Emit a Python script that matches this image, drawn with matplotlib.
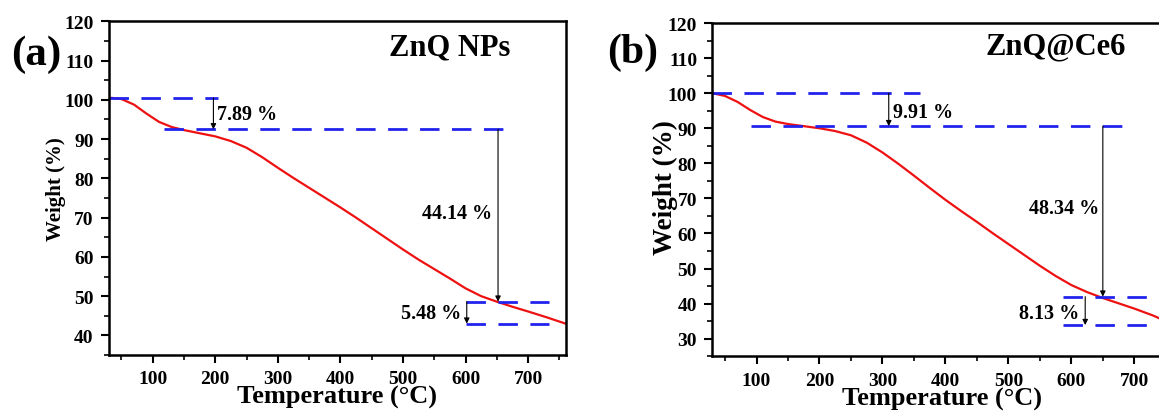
import numpy as np
import matplotlib.pyplot as plt
from matplotlib.ticker import MultipleLocator

plt.rcParams['font.family'] = ['Liberation Serif', 'DejaVu Serif']
plt.rcParams['font.weight'] = 'bold'

# TGA curves
temp_a = [35, 50, 70, 90, 110, 130, 150, 175, 200, 225, 250, 275, 300, 325, 350,
          375, 400, 425, 450, 475, 500, 525, 550, 575, 600, 625, 650, 675, 700, 730, 760]
weight_a = [100.5, 100.2, 98.8, 96.5, 94.4, 93.1, 92.3, 91.5, 90.7, 89.5, 87.8, 85.4,
            82.7, 80.1, 77.6, 75.1, 72.6, 70.0, 67.3, 64.6, 61.9, 59.3, 56.9, 54.5,
            52.0, 50.0, 48.6, 47.3, 46.1, 44.6, 43.0]

temp_b = [30, 50, 70, 90, 110, 130, 150, 175, 200, 225, 250, 275, 300, 325, 350,
          375, 400, 425, 450, 475, 500, 525, 550, 575, 600, 625, 650, 675, 700, 730, 760]
weight_b = [100.0, 99.2, 97.5, 95.2, 93.2, 91.9, 91.2, 90.6, 90.0, 89.2, 88.0, 85.9,
            83.1, 79.9, 76.5, 73.0, 69.6, 66.4, 63.3, 60.1, 57.0, 53.9, 50.8, 47.9,
            45.3, 43.3, 41.6, 40.1, 38.6, 36.6, 34.2]

# dashed guide lines: (level, x start, x end)
guides_a = [(100.5, 30, 205), (92.5, 118, 679), (48.6, 600, 733), (43.0, 600, 733)]
guides_b = [(100.0, 30, 360), (90.6, 91, 688), (42.0, 587, 770), (33.9, 587, 770)]

# weight-loss steps: (label, arrow x, from, to, text x, text y, side)
steps_a = [('7.89 %', 197, 100.5, 92.5, 203, 96.4, 'left'),
           ('44.14 %', 652, 92.5, 48.6, 643, 71.3, 'right'),
           ('5.48 %', 602, 48.6, 43.0, 593, 45.8, 'right')]
steps_b = [('9.91 %', 310, 100.0, 90.6, 316, 94.6, 'left'),
           ('48.34 %', 650, 90.6, 42.0, 645, 67.2, 'right'),
           ('8.13 %', 622, 42.0, 33.9, 613, 37.4, 'right')]

fig = plt.figure(figsize=(11.59, 4.14), dpi=100)


def panel(rect, temp, weight, guides, steps, ylim, yticks, title, ylabsize, ylabpos):
    ax = fig.add_axes(rect)
    ax.plot(temp, weight, color='#ee1111', lw=1.6)
    for y, x0, x1 in guides:
        ax.plot([x0, x1], [y, y], color='#2222ee', lw=2, dashes=(7, 4.5))
    for lab, xa, y0, y1, xt, yt, ha in steps:
        ax.annotate('', xy=(xa, y1), xytext=(xa, y0),
                    arrowprops=dict(arrowstyle='-|>', color='black', lw=0.8,
                                    mutation_scale=8, shrinkA=0, shrinkB=0))
        ax.text(xt, yt, lab, ha=ha, va='center', fontsize=14.5, fontweight='bold')
    ax.text(575, 113.5, title, ha='center', va='center', fontsize=22, fontweight='bold')
    ax.set_xlim(30, 760)
    ax.set_ylim(*ylim)
    ax.set_yticks(yticks)
    ax.set_xticks(range(100, 701, 100))
    ax.xaxis.set_minor_locator(MultipleLocator(50))
    ax.yaxis.set_minor_locator(MultipleLocator(5))
    ax.tick_params(which='major', direction='out', length=6, width=1.5, labelsize=14, pad=5)
    ax.tick_params(which='minor', direction='out', length=3.5, width=1.2)
    for lbl in ax.get_xticklabels() + ax.get_yticklabels():
        lbl.set_fontweight('bold')
    for sp in ax.spines.values():
        sp.set_linewidth(1.8)
    ax.set_xlabel('Temperature (°C)', fontsize=19, fontweight='bold', labelpad=-1.5)
    ax.set_ylabel('Weight (%)', fontsize=ylabsize, fontweight='bold')
    ax.yaxis.set_label_coords(*ylabpos)
    return ax


panel([0.094, 0.140, 0.394, 0.806], temp_a, weight_a, guides_a, steps_a,
      (35, 120), range(40, 121, 10), 'ZnQ NPs', 15, (-0.093, 0.5))
panel([0.6147, 0.137, 0.3966, 0.805], temp_b, weight_b, guides_b, steps_b,
      (25, 120), range(30, 121, 10), 'ZnQ@Ce6', 19.5, (-0.076, 0.51))

fig.text(0.031, 0.867, '(a)', ha='center', va='center', fontsize=31, fontweight='bold')
fig.text(0.546, 0.872, '(b)', ha='center', va='center', fontsize=30, fontweight='bold')

fig.savefig('out.png', dpi=100)
